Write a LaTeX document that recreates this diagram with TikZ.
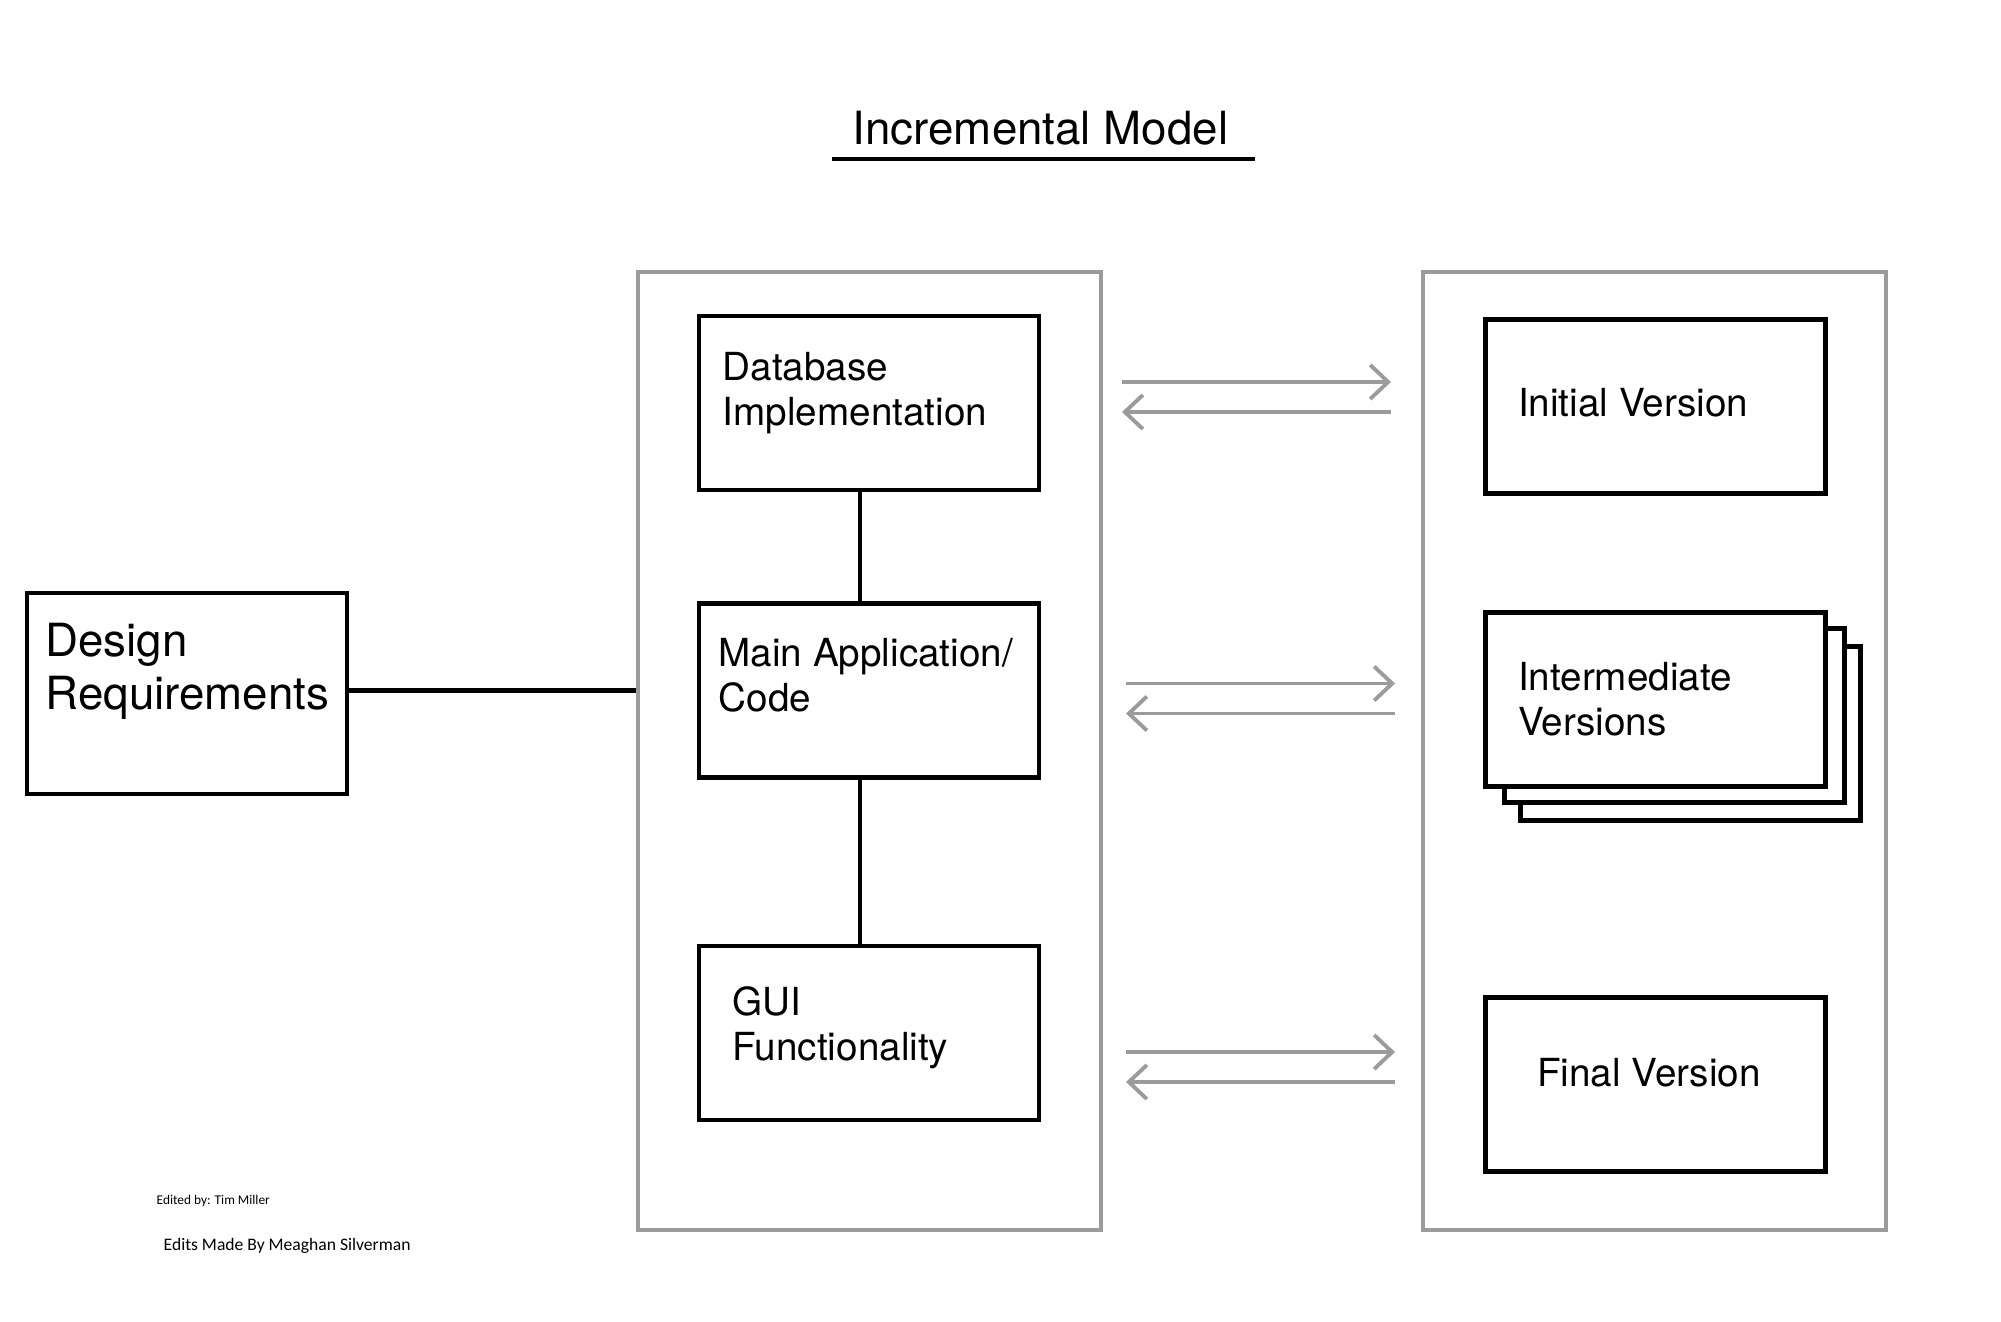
\documentclass[tikz,border=0pt]{standalone}
\usepackage{fontspec}
\setmainfont{TeX Gyre Heros}
\newfontfamily\notefont{Carlito}
\usetikzlibrary{arrows.meta}
\definecolor{framegray}{HTML}{9B9B9B}

\begin{document}
\begin{tikzpicture}[
    blk/.style={draw, line width=1.2pt, fill=white, minimum width=3.4cm, minimum height=1.74cm, inner sep=0pt},
    col/.style={draw=framegray, line width=1.2pt, minimum width=4.63cm, minimum height=9.58cm, inner sep=0pt},
    lbl/.style={anchor=west, align=left, inner sep=0pt, font=\fontsize{11}{12.8}\selectfont},
    flow/.style={-{Straight Barb[length=1.8mm, width=3.4mm]}, draw=framegray, line width=1.1pt},
    conn/.style={line width=1.2pt}]
    \useasboundingbox (0, 0) rectangle (20.01, 13.21);

    % title
    \node[anchor=base, inner sep=0pt, font=\fontsize{13}{15}\selectfont] (title) at (10.405, 11.76) {Incremental Model};
    \draw[line width=1.2pt] (8.32, 11.62) -- (12.55, 11.62);

    % the two columns
    \node[col] (lcol) at (8.695, 5.70) {};
    \node[col] (rcol) at (16.545, 5.70) {};

    % requirements
    \node[blk, minimum width=3.2cm, minimum height=2.01cm] (design) at (1.87, 6.275) {};
    \node[lbl, font=\fontsize{13}{15.2}\selectfont] (designt) at ([xshift=.2cm, yshift=.22cm]design.west) {Design\\Requirements};

    % increments
    \node[blk] (db) at (8.69, 9.18) {};
    \node[blk] (main) at (8.69, 6.305) {};
    \node[blk] (gui) at (8.69, 2.88) {};
    \node[lbl] (dbt) at ([xshift=.25cm, yshift=.1cm]db.west) {Database\\Implementation};
    \node[lbl] (maint) at ([xshift=.21cm, yshift=.15cm]main.west) {Main Application/\\Code};
    \node[lbl] (guit) at ([xshift=.35cm, yshift=.05cm]gui.west) {GUI\\Functionality};

    % versions
    \node[blk] (init) at (16.555, 9.145) {};
    \node[blk] (inter3) at (16.905, 5.875) {};
    \node[blk] (inter2) at (16.745, 6.055) {};
    \node[blk] (inter) at (16.555, 6.215) {};
    \node[blk] (final) at (16.555, 2.365) {};
    \node[lbl] (initt) at ([xshift=.34cm, yshift=.04cm]init.west) {Initial Version};
    \node[lbl] (intert) at ([xshift=.34cm]inter.west) {Intermediate\\Versions};
    \node[lbl] (finalt) at ([xshift=.53cm, yshift=.12cm]final.west) {Final Version};

    % connectors
    \draw[conn] ([yshift=.03cm]design.east) -- ([yshift=.03cm]design.east -| lcol.west);
    \draw[conn] ([xshift=-.9mm]db.south) -- ([xshift=-.9mm]main.north);
    \draw[conn] ([xshift=-.9mm]main.south) -- ([xshift=-.9mm]gui.north);

    % feedback arrows
    \foreach \name/\y/\x in {a/9.24/11.22, b/6.225/11.26, c/2.54/11.26} {
        \coordinate (\name l) at (\x, \y);
        \coordinate (\name r) at (\x + 2.69, \y);
        \draw[flow] ([yshift=.15cm]\name l) -- ([yshift=.15cm]\name r);
        \draw[flow] ([yshift=-.15cm]\name r) -- ([yshift=-.15cm]\name l);
    }

    % notes
    \node[anchor=west, inner sep=0pt, font=\notefont\fontsize{3.8}{4.5}\selectfont] (edit1) at (1.56, 1.20) {Edited by: Tim Miller};
    \node[anchor=west, inner sep=0pt, font=\notefont\fontsize{5}{6}\selectfont] (edit2) at (1.63, 0.754) {Edits Made By Meaghan Silverman};
\end{tikzpicture}
\end{document}
